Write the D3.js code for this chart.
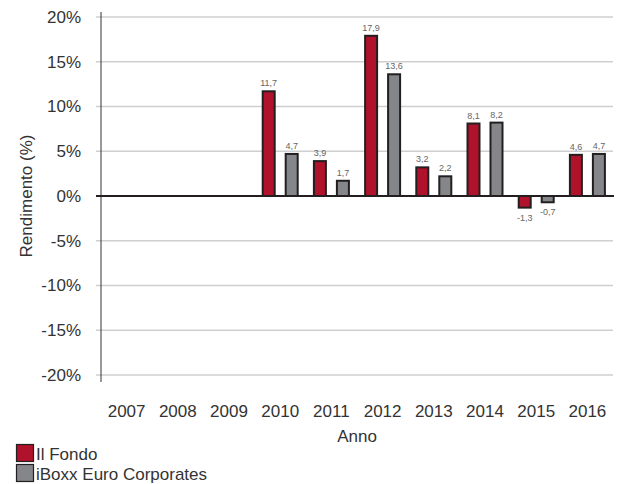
<!DOCTYPE html>
<html>
<head>
<meta charset="utf-8">
<style>
  body { margin: 0; background: #fff; }
  svg { display: block; }
  .tickText { font: 17px "Liberation Sans", Arial, sans-serif; fill: #333; }
  .valueText { font: 9px "Liberation Sans", Arial, sans-serif; fill: #666; text-anchor: middle; }
  .gridLine { stroke: #cfcfcf; stroke-width: 1.5px; }
</style>
<script src="https://d3js.org/d3.v7.min.js"></script>
</head>
<body>
<svg width="621" height="484"></svg>
<script>
// data
var years = ["2007", "2008", "2009", "2010", "2011", "2012", "2013", "2014", "2015", "2016"];
var fondo = [null, null, null, 11.7, 3.9, 17.9, 3.2, 8.1, -1.3, 4.6];
var iboxx = [null, null, null, 4.7, 1.7, 13.6, 2.2, 8.2, -0.7, 4.7];
var yTicks = [20, 15, 10, 5, 0, -5, -10, -15, -20];
var seriesNames = ["Il Fondo", "iBoxx Euro Corporates"];
var seriesColors = ["#b0112b", "#85868a"];

var svg = d3.select("svg");

var x = d3.scaleBand()
  .domain(years)
  .range([101, 613]);

var y = d3.scaleLinear()
  .domain([-20, 20])
  .range([375, 17]);

// grid lines
svg.selectAll("line.gridLine")
  .data(yTicks.filter(function(d) { return d !== 0; }))
  .enter()
  .append("line")
  .attr("class", "gridLine")
  .attr("x1", 96)
  .attr("x2", 613)
  .attr("y1", function(d) { return y(d); })
  .attr("y2", function(d) { return y(d); });

// y axis
var yAxis = d3.axisLeft(y)
  .tickValues(yTicks)
  .tickSize(0)
  .tickPadding(20)
  .tickFormat(function(d) { return d + "%"; });

var yg = svg.append("g")
  .attr("transform", "translate(101,0)")
  .call(yAxis);
yg.select(".domain").remove();
yg.selectAll("text").attr("class", "tickText").attr("fill", null).style("font-size", null);

svg.append("line")
  .attr("x1", 101).attr("x2", 101)
  .attr("y1", 12).attr("y2", 382)
  .attr("stroke", "#333").attr("stroke-width", 1);

// x axis labels
var xAxis = d3.axisBottom(x).tickSize(0).tickPadding(0);
var xg = svg.append("g")
  .attr("transform", "translate(0,405)")
  .call(xAxis);
xg.select(".domain").remove();
xg.selectAll("text").attr("class", "tickText").attr("fill", null).style("font-size", null);

// bars
var offsets = [-11.5, 11.5];
var barW = 12;
[fondo, iboxx].forEach(function(series, s) {
  var pts = years.map(function(yr, i) { return { year: yr, v: series[i] }; })
    .filter(function(d) { return d.v !== null; });

  svg.selectAll("rect.bar" + s)
    .data(pts)
    .enter()
    .append("rect")
    .attr("class", "bar" + s)
    .attr("x", function(d) { return x(d.year) + x.bandwidth() / 2 + offsets[s] - barW / 2; })
    .attr("y", function(d) { return Math.min(y(d.v), y(0)); })
    .attr("width", barW)
    .attr("height", function(d) { return Math.abs(y(d.v) - y(0)); })
    .attr("fill", seriesColors[s])
    .attr("stroke", "#231f20")
    .attr("stroke-width", 2);

  svg.selectAll("text.val" + s)
    .data(pts)
    .enter()
    .append("text")
    .attr("class", "valueText")
    .attr("x", function(d) { return x(d.year) + x.bandwidth() / 2 + offsets[s]; })
    .attr("y", function(d) { return d.v >= 0 ? y(d.v) - 5 : y(d.v) + 13; })
    .text(function(d) { return String(d.v).replace(".", ","); });
});

// zero line
svg.append("line")
  .attr("x1", 96).attr("x2", 614)
  .attr("y1", y(0)).attr("y2", y(0))
  .attr("stroke", "#231f20").attr("stroke-width", 2);

// axis titles
svg.append("text")
  .attr("class", "tickText")
  .attr("x", x.range()[0] + (x.range()[1] - x.range()[0]) / 2)
  .attr("y", 442)
  .attr("text-anchor", "middle")
  .text("Anno");

svg.append("text")
  .attr("class", "tickText")
  .attr("transform", "translate(32," + y(0) + ") rotate(-90)")
  .attr("text-anchor", "middle")
  .text("Rendimento (%)");

// legend
seriesNames.forEach(function(name, i) {
  var g = svg.append("g").attr("transform", "translate(16," + (444 + i * 20) + ")");
  g.append("rect")
    .attr("x", 0.5).attr("y", 0.5)
    .attr("width", 17).attr("height", 17)
    .attr("fill", seriesColors[i])
    .attr("stroke", "#231f20").attr("stroke-width", 1.2);
  g.append("text")
    .attr("class", "tickText")
    .attr("x", 20).attr("y", 16)
    .text(name);
});
</script>
</body>
</html>
